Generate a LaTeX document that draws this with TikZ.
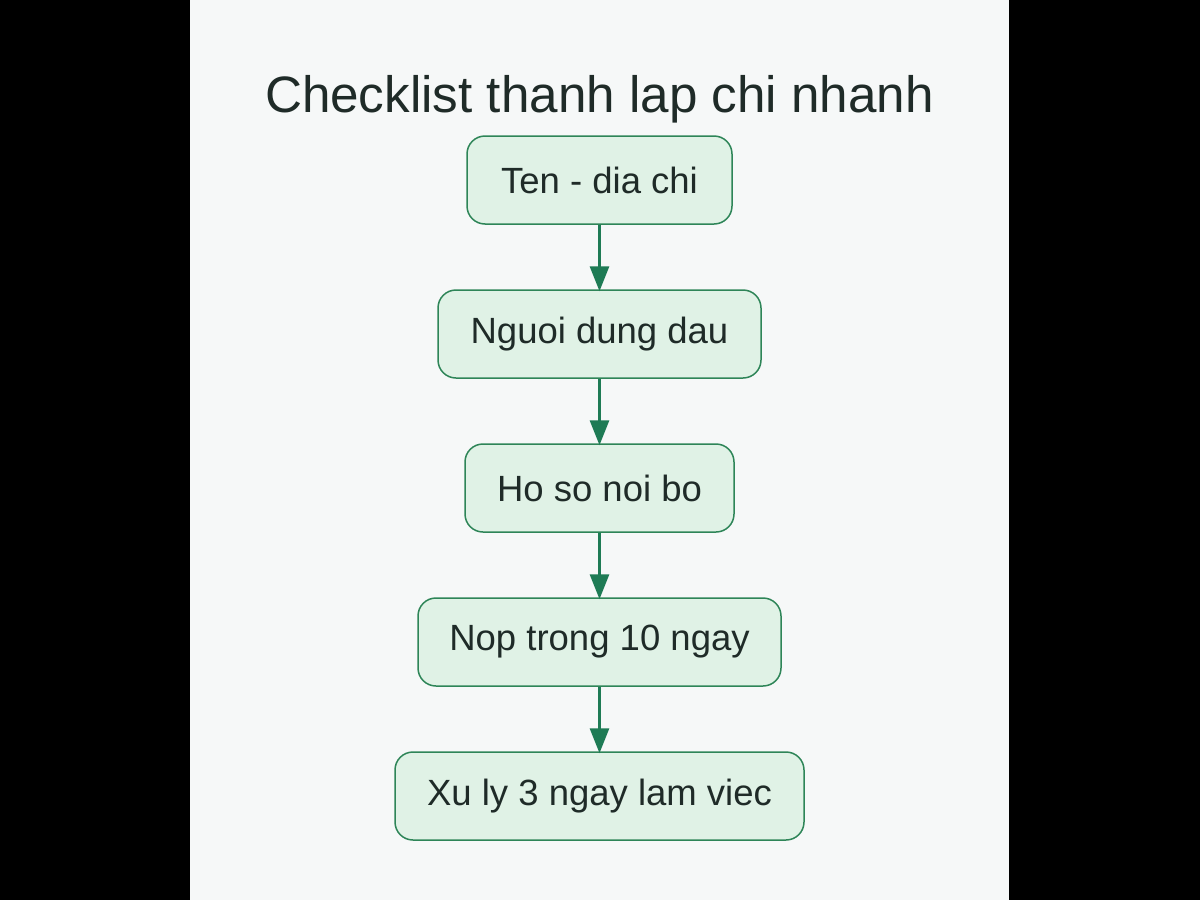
\documentclass[tikz,border=0pt]{standalone}
\usepackage{fontspec}
\setmainfont{Liberation Sans}
\usetikzlibrary{arrows.meta}
\definecolor{panel}{HTML}{F6F8F8}
\definecolor{boxfill}{HTML}{E0F2E6}
\definecolor{boxline}{HTML}{2E8558}
\definecolor{arrowc}{HTML}{1E7B55}
\definecolor{txt}{HTML}{1F2B28}
\begin{document}
\begin{tikzpicture}[x=1pt,y=-1pt,
  stepbox/.style={draw=boxline,fill=boxfill,line width=1.5pt,rounded corners=18pt,
    minimum height=88pt,inner sep=0pt,text=txt,font=\fontsize{36.5}{42}\selectfont},
  flow/.style={draw=arrowc,line width=3pt,-{Triangle[length=25pt,width=19pt]},shorten >=-2pt}]
\fill[black] (0,0) rectangle (1200,900);
\fill[panel] (190,0) rectangle (1009,900);
\useasboundingbox (0,0) rectangle (1200,900);
\node[text=txt,font=\fontsize{51.2}{58}\selectfont] (title) at (599.5,99) {Checklist thanh lap chi nhanh};
\node[stepbox,minimum width=265pt] (s1) at (599.5,180) {Ten - dia chi};
\node[stepbox,minimum width=323pt] (s2) at (599.5,334) {Nguoi dung dau};
\node[stepbox,minimum width=269pt] (s3) at (599.5,488) {Ho so noi bo};
\node[stepbox,minimum width=363pt] (s4) at (599.5,642) {Nop trong 10 ngay};
\node[stepbox,minimum width=409pt] (s5) at (599.5,796) {Xu ly 3 ngay lam viec};
\draw[flow] (s1) -- (s2);
\draw[flow] (s2) -- (s3);
\draw[flow] (s3) -- (s4);
\draw[flow] (s4) -- (s5);
\end{tikzpicture}
\end{document}
